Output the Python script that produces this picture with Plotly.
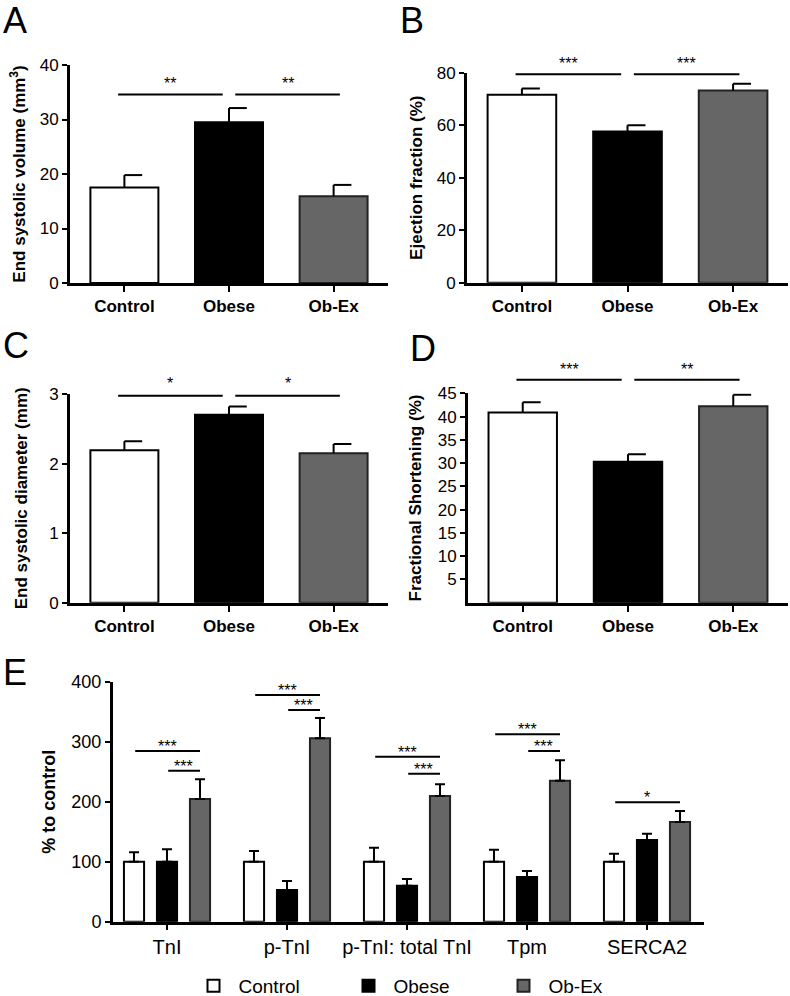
import plotly.graph_objects as go

W, H = 790, 996
FONT = "Liberation Sans, Arial, sans-serif"

# ---------------- data ----------------
groups = ["Control", "Obese", "Ob-Ex"]
esv_mean = [17.5, 29.5, 15.9]
esv_err = [2.3, 2.6, 2.1]
ef_mean = [71.6, 57.6, 73.2]
ef_err = [2.4, 2.4, 2.6]
esd_mean = [2.19, 2.70, 2.15]
esd_err = [0.13, 0.12, 0.13]
fs_mean = [40.9, 30.3, 42.2]
fs_err = [2.2, 1.6, 2.5]

proteins = ["TnI", "p-TnI", "p-TnI: total TnI", "Tpm", "SERCA2"]
ctrl_mean = [100, 100, 100, 100, 100]
ctrl_err = [15.6, 17.8, 23.4, 20.0, 13.3]
obese_mean = [100, 52.8, 60.0, 74.5, 136.0]
obese_err = [20.6, 15.0, 11.2, 10.0, 10.7]
obex_mean = [204.5, 305.6, 209.5, 235.0, 166.0]
obex_err = [32.8, 33.9, 19.5, 34.0, 18.5]

# significance: (from group, to group, height, label)
sig_A = [(0, 1, 34.6, "**"), (1, 2, 34.6, "**")]
sig_B = [(0, 1, 79.4, "***"), (1, 2, 79.4, "***")]
sig_C = [(0, 1, 2.975, "*"), (1, 2, 2.975, "*")]
sig_D = [(0, 1, 47.9, "***"), (1, 2, 47.9, "**")]
# panel E: (protein index, from series, to series, height, label)
sig_E = [
    (0, 0, 2, 284.5, "***"), (0, 1, 2, 251.7, "***"),
    (1, 0, 2, 377.8, "***"), (1, 1, 2, 352.8, "***"),
    (2, 0, 2, 275.0, "***"), (2, 1, 2, 246.7, "***"),
    (3, 0, 2, 312.3, "***"), (3, 1, 2, 284.5, "***"),
    (4, 0, 2, 199.0, "*"),
]

bar_fill = ["white", "black", "#666666"]
bar_edge = ["black", "black", "#222222"]

fig = go.Figure()


def dom_x(a, b):
    return [a / W, b / W]


def dom_y(top, bottom):
    return [1 - bottom / H, 1 - top / H]


axis_common = dict(showline=True, linewidth=3, linecolor="black", ticks="outside",
                   tickwidth=2, tickcolor="black", showgrid=False, zeroline=False,
                   automargin=False)

panels = [
    dict(n="", mean=esv_mean, err=esv_err, xd=(70, 388), yd=(65, 283), ymax=40,
         tv=[0, 10, 20, 30, 40], title="End systolic volume (mm<sup>3</sup>)", so=10,
         sig=sig_A, ys=0),
    dict(n="2", mean=ef_mean, err=ef_err, xd=(467, 788), yd=(72.7, 282.7), ymax=80,
         tv=[0, 20, 40, 60, 80], title="Ejection fraction (%)", so=10, sig=sig_B, ys=0),
    dict(n="3", mean=esd_mean, err=esd_err, xd=(70, 388), yd=(394, 602.7), ymax=3,
         tv=[0, 1, 2, 3], title="End systolic diameter (mm)", so=18, sig=sig_C, ys=2),
    dict(n="4", mean=fs_mean, err=fs_err, xd=(468, 788), yd=(393.3, 602.7), ymax=45,
         tv=[5, 10, 15, 20, 25, 30, 35, 40, 45], title="Fractional Shortening (%)", so=12,
         sig=sig_D, ys=0),
]

shapes = []
annotations = []
layout_axes = {}

for p in panels:
    xa = "x" + p["n"]
    ya = "y" + p["n"]
    xs = list(range(len(groups)))
    fig.add_trace(go.Bar(
        x=xs, y=p["mean"], width=0.65, xaxis=xa, yaxis=ya, showlegend=False,
        marker=dict(color=bar_fill, line=dict(color=bar_edge, width=2)),
        error_y=dict(type="data", array=p["err"], arrayminus=[0] * 3, symmetric=False,
                     width=0, thickness=2, color="black"),
        hoverinfo="skip"))
    # right-sided caps
    cx, cy = [], []
    for i, (m, e) in enumerate(zip(p["mean"], p["err"])):
        cx += [i, i + 0.17, None]
        cy += [m + e, m + e, None]
    fig.add_trace(go.Scatter(x=cx, y=cy, mode="lines", xaxis=xa, yaxis=ya,
                             line=dict(color="black", width=2), showlegend=False,
                             hoverinfo="skip"))
    layout_axes["xaxis" + p["n"]] = dict(
        axis_common, domain=dom_x(*p["xd"]), range=[-0.52, 2.52], anchor=ya,
        tickvals=xs, ticktext=groups, ticklen=6,
        tickfont=dict(family=FONT, size=17, color="black", weight="bold"))
    layout_axes["yaxis" + p["n"]] = dict(
        axis_common, domain=dom_y(*p["yd"]), range=[0, p["ymax"]], anchor=xa,
        tickvals=p["tv"], ticklen=5,
        tickfont=dict(family=FONT, size=17, color="black"),
        title=dict(text=p["title"], standoff=p["so"],
                   font=dict(family=FONT, size=17, color="black", weight="bold")))
    for (a, b, h, lab) in p["sig"]:
        off = -0.06 if a == 0 else 0.06
        shapes.append(dict(type="line", xref=xa, yref=ya + " domain",
                           x0=a + off, x1=b + off, y0=h / p["ymax"], y1=h / p["ymax"],
                           line=dict(color="black", width=2)))
        annotations.append(dict(xref=xa, yref=ya + " domain", x=(a + b) / 2 + off,
                                y=h / p["ymax"], yanchor="bottom", showarrow=False,
                                text=lab, yshift=p["ys"],
                                font=dict(family=FONT, size=16, color="black")))

# ---------------- panel E ----------------
series = [("Control", ctrl_mean, ctrl_err), ("Obese", obese_mean, obese_err),
          ("Ob-Ex", obex_mean, obex_err)]
xe = list(range(len(proteins)))
for k, (name, m, e) in enumerate(series):
    fig.add_trace(go.Bar(
        x=xe, y=m, name=name, xaxis="x5", yaxis="y5",
        marker=dict(color=bar_fill[k], line=dict(color=bar_edge[k], width=2)),
        error_y=dict(type="data", array=e, arrayminus=[0] * len(m), symmetric=False,
                     width=5, thickness=2, color="black"),
        hoverinfo="skip"))

slot = [-0.275, 0.0, 0.275]
for (g, a, b, h, lab) in sig_E:
    shapes.append(dict(type="line", xref="x5", yref="y5",
                       x0=g + slot[a] + 0.01, x1=g + slot[b], y0=h, y1=h,
                       line=dict(color="black", width=2)))
    annotations.append(dict(xref="x5", yref="y5", x=g + (slot[a] + slot[b]) / 2,
                            y=h, yanchor="bottom", showarrow=False, text=lab,
                            yshift=-6, font=dict(family=FONT, size=16, color="black")))

layout_axes["xaxis5"] = dict(
    axis_common, domain=dom_x(113, 704), range=[-0.45, 4.475], anchor="y5",
    tickvals=xe, ticktext=proteins, ticklen=5,
    tickfont=dict(family=FONT, size=20, color="black"))
layout_axes["yaxis5"] = dict(
    axis_common, domain=dom_y(681.7, 921.7), range=[0, 400], anchor="x5",
    tickvals=[0, 100, 200, 300, 400], ticklen=5,
    tickfont=dict(family=FONT, size=18, color="black"),
    title=dict(text="% to control", standoff=12,
               font=dict(family=FONT, size=18, color="black", weight="bold")))

# panel letters
for lab, px, py in [("A", 1, -2), ("B", 398, -2), ("C", 1, 323), ("D", 408, 326), ("E", 1, 650)]:
    annotations.append(dict(xref="paper", yref="paper", x=px / W, y=1 - py / H,
                            xanchor="left", yanchor="top", showarrow=False, text=lab,
                            font=dict(family=FONT, size=36, color="black")))

fig.update_layout(
    template="none",
    width=W, height=H, margin=dict(l=0, r=0, t=0, b=0, autoexpand=False),
    paper_bgcolor="white", plot_bgcolor="white",
    barmode="group", bargap=0.175, bargroupgap=0.39,
    font=dict(family=FONT, color="black"),
    shapes=shapes, annotations=annotations,
    legend=dict(orientation="h", x=421 / W, xanchor="center", y=1 - 986 / H,
                yanchor="middle", font=dict(family=FONT, size=19, color="black"),
                entrywidth=100, entrywidthmode="pixels", itemwidth=40),
    **layout_axes,
)

fig.write_html("out.html", config={"displayModeBar": False},
               post_script="document.body.style.margin='0';")
